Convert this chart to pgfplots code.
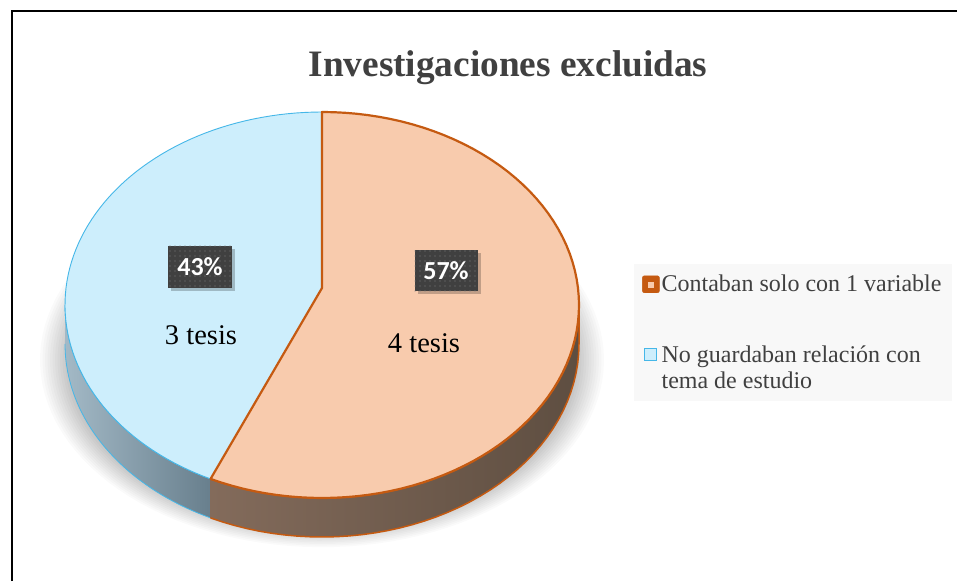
\documentclass[border=0pt]{standalone}
\usepackage{fontspec}
\setmainfont{Liberation Serif}
\newfontfamily\carlito{Carlito}
\usepackage{pgfplots}
\usepackage{pgfplotstable}
\pgfplotsset{compat=1.18}
\usetikzlibrary{patterns.meta}

\definecolor{peach}{HTML}{F8CBAD}
\definecolor{orangeB}{HTML}{C55A11}
\definecolor{lblue}{HTML}{CDEEFC}
\definecolor{cyanB}{HTML}{45B7E8}
\definecolor{bsideL}{HTML}{A3B9C6}
\definecolor{bsideR}{HTML}{687F8D}
\definecolor{osideL}{HTML}{836B5B}
\definecolor{osideM}{HTML}{625143}
\definecolor{osideR}{HTML}{5E4E41}
\definecolor{legbg}{HTML}{F8F8F8}
\definecolor{textgray}{HTML}{404040}
\definecolor{boxgray}{HTML}{404040}

\pgfplotstableread{
cat value
A 4
B 3
}\datatable
\pgfplotstablegetelem{0}{value}\of\datatable \let\vA\pgfplotsretval
\pgfplotstablegetelem{1}{value}\of\datatable \let\vB\pgfplotsretval
\pgfmathsetmacro{\tB}{90-360*\vA/(\vA+\vB)}
\pgfmathtruncatemacro{\pA}{round(100*\vA/(\vA+\vB))}
\pgfmathtruncatemacro{\pB}{round(100*\vB/(\vA+\vB))}
\def\cx{322}\def\cy{276}\def\rx{257}\def\ry{193}\def\dep{39}
\def\ax{322}\def\ay{293}

\begin{document}
\begin{tikzpicture}
\begin{axis}[
  width=957pt, height=581pt, scale only axis,
  xmin=0, xmax=957, ymin=0, ymax=581,
  hide axis, clip=true,
  legend cell align=left,
  legend style={at={(axis cs:634,317)}, anchor=north west, draw=none, fill=legbg,
    font=\fontsize{24}{26}\selectfont, text=textgray,
    inner xsep=8pt, inner ysep=9pt, row sep=48pt,
    cells={anchor=west, align=left},
    /tikz/every odd column/.append style={column sep=0pt}},
]
% background
\addplot[forget plot, fill=white, draw=none] coordinates {(0,0) (957,0) (957,581) (0,581)};
% shadow
\pgfplotsinvokeforeach{0,...,12}{
  \addplot[forget plot, draw=none, fill=black, fill opacity=0.02, domain=0:360, samples=120]
    ({322+(252+2.5*#1)*cos(x)}, {221+(168+1.6*#1)*sin(x)});
}
% blue side
\addplot[forget plot, draw=cyanB, line width=0.8pt, left color=bsideL, right color=bsideR,
  samples at={0,...,81}, variable=\i]
  ({\cx+\rx*cos(ifthenelse(\i<41, -180+(\tB+180)*\i/40, \tB-(\tB+180)*(\i-41)/40))},
   {\cy+\ry*sin(ifthenelse(\i<41, -180+(\tB+180)*\i/40, \tB-(\tB+180)*(\i-41)/40)) - ifthenelse(\i<41,0,\dep)});
% orange side
\addplot[forget plot, draw=orangeB, line width=1.5pt, line join=round,
  left color=osideL, middle color=osideM, right color=osideR,
  samples at={0,...,81}, variable=\i]
  ({\cx+\rx*cos(ifthenelse(\i<41, \tB-\tB*\i/40, \tB*(\i-41)/40))},
   {\cy+\ry*sin(ifthenelse(\i<41, \tB-\tB*\i/40, \tB*(\i-41)/40)) - ifthenelse(\i<41,0,\dep)});
% blue face
\addplot[forget plot, draw=none, fill=lblue, samples at={0,...,81}, variable=\i]
  ({ifthenelse(\i<1, \ax, \cx+\rx*cos(\tB+(-270-\tB)*(\i-1)/80))},
   {ifthenelse(\i<1, \ay, \cy+\ry*sin(\tB+(-270-\tB)*(\i-1)/80))});
\addplot[forget plot, draw=cyanB, line width=0.9pt, samples at={1,...,81}, variable=\i]
  ({\cx+\rx*cos(\tB+(-270-\tB)*(\i-1)/80)},
   {\cy+\ry*sin(\tB+(-270-\tB)*(\i-1)/80)});
% orange face
\addplot[forget plot, draw=orangeB, line width=2.2pt, line join=round, fill=peach,
  samples at={0,...,81}, variable=\i]
  ({ifthenelse(\i<1, \ax, \cx+\rx*cos(90+(\tB-90)*(\i-1)/80))},
   {ifthenelse(\i<1, \ay, \cy+\ry*sin(90+(\tB-90)*(\i-1)/80))}) -- cycle;
% frame
\addplot[forget plot, black, line width=2.5pt] coordinates {(12,0) (12,570) (957,570)};

% title
\node[text=textgray, font=\fontsize{37.3}{40}\selectfont\bfseries] at (axis cs:508,513) {Investigaciones excluidas};
% value labels
\node[font=\fontsize{28.5}{30}\selectfont] at (axis cs:201,246) {\vB\ tesis};
\node[font=\fontsize{28.5}{30}\selectfont] at (axis cs:424,238) {\vA\ tesis};
% percentage boxes
\node[fill=black, fill opacity=0.22, minimum width=64pt, minimum height=42pt, inner sep=0pt] at (axis cs:203,311) {};
\node[fill=boxgray, minimum width=64pt, minimum height=42pt, inner sep=0pt] at (axis cs:200,314) {};
\node[pattern={Dots[distance=5pt, radius=0.6pt]}, pattern color=gray, minimum width=64pt, minimum height=42pt, inner sep=0pt] at (axis cs:200,314) {};
\node[text=white, font=\carlito\bfseries\fontsize{26}{26}\selectfont] at (axis cs:200,314) {\pB\%};
\node[fill=black, fill opacity=0.22, minimum width=63pt, minimum height=41pt, inner sep=0pt] at (axis cs:449,307) {};
\node[fill=boxgray, minimum width=63pt, minimum height=41pt, inner sep=0pt] at (axis cs:446,310) {};
\node[pattern={Dots[distance=5pt, radius=0.6pt]}, pattern color=gray, minimum width=63pt, minimum height=41pt, inner sep=0pt] at (axis cs:446,310) {};
\node[text=white, font=\carlito\bfseries\fontsize{26}{26}\selectfont] at (axis cs:446,310) {\pA\%};

% legend
\addlegendimage{legend image code/.code={
  \fill[orangeB, rounded corners=2pt] (0pt,-8.5pt) rectangle (17pt,8.5pt);
  \fill[peach] (6pt,-2.5pt) rectangle (11pt,2.5pt);}}
\addlegendentry{Contaban solo con 1 variable}
\addlegendimage{legend image code/.code={
  \draw[draw=cyanB, fill=lblue, line width=1.8pt] (2pt,7pt) rectangle (14pt,19pt);}}
\addlegendentry{No guardaban relación con\\tema de estudio}
\end{axis}
\end{tikzpicture}
\end{document}
